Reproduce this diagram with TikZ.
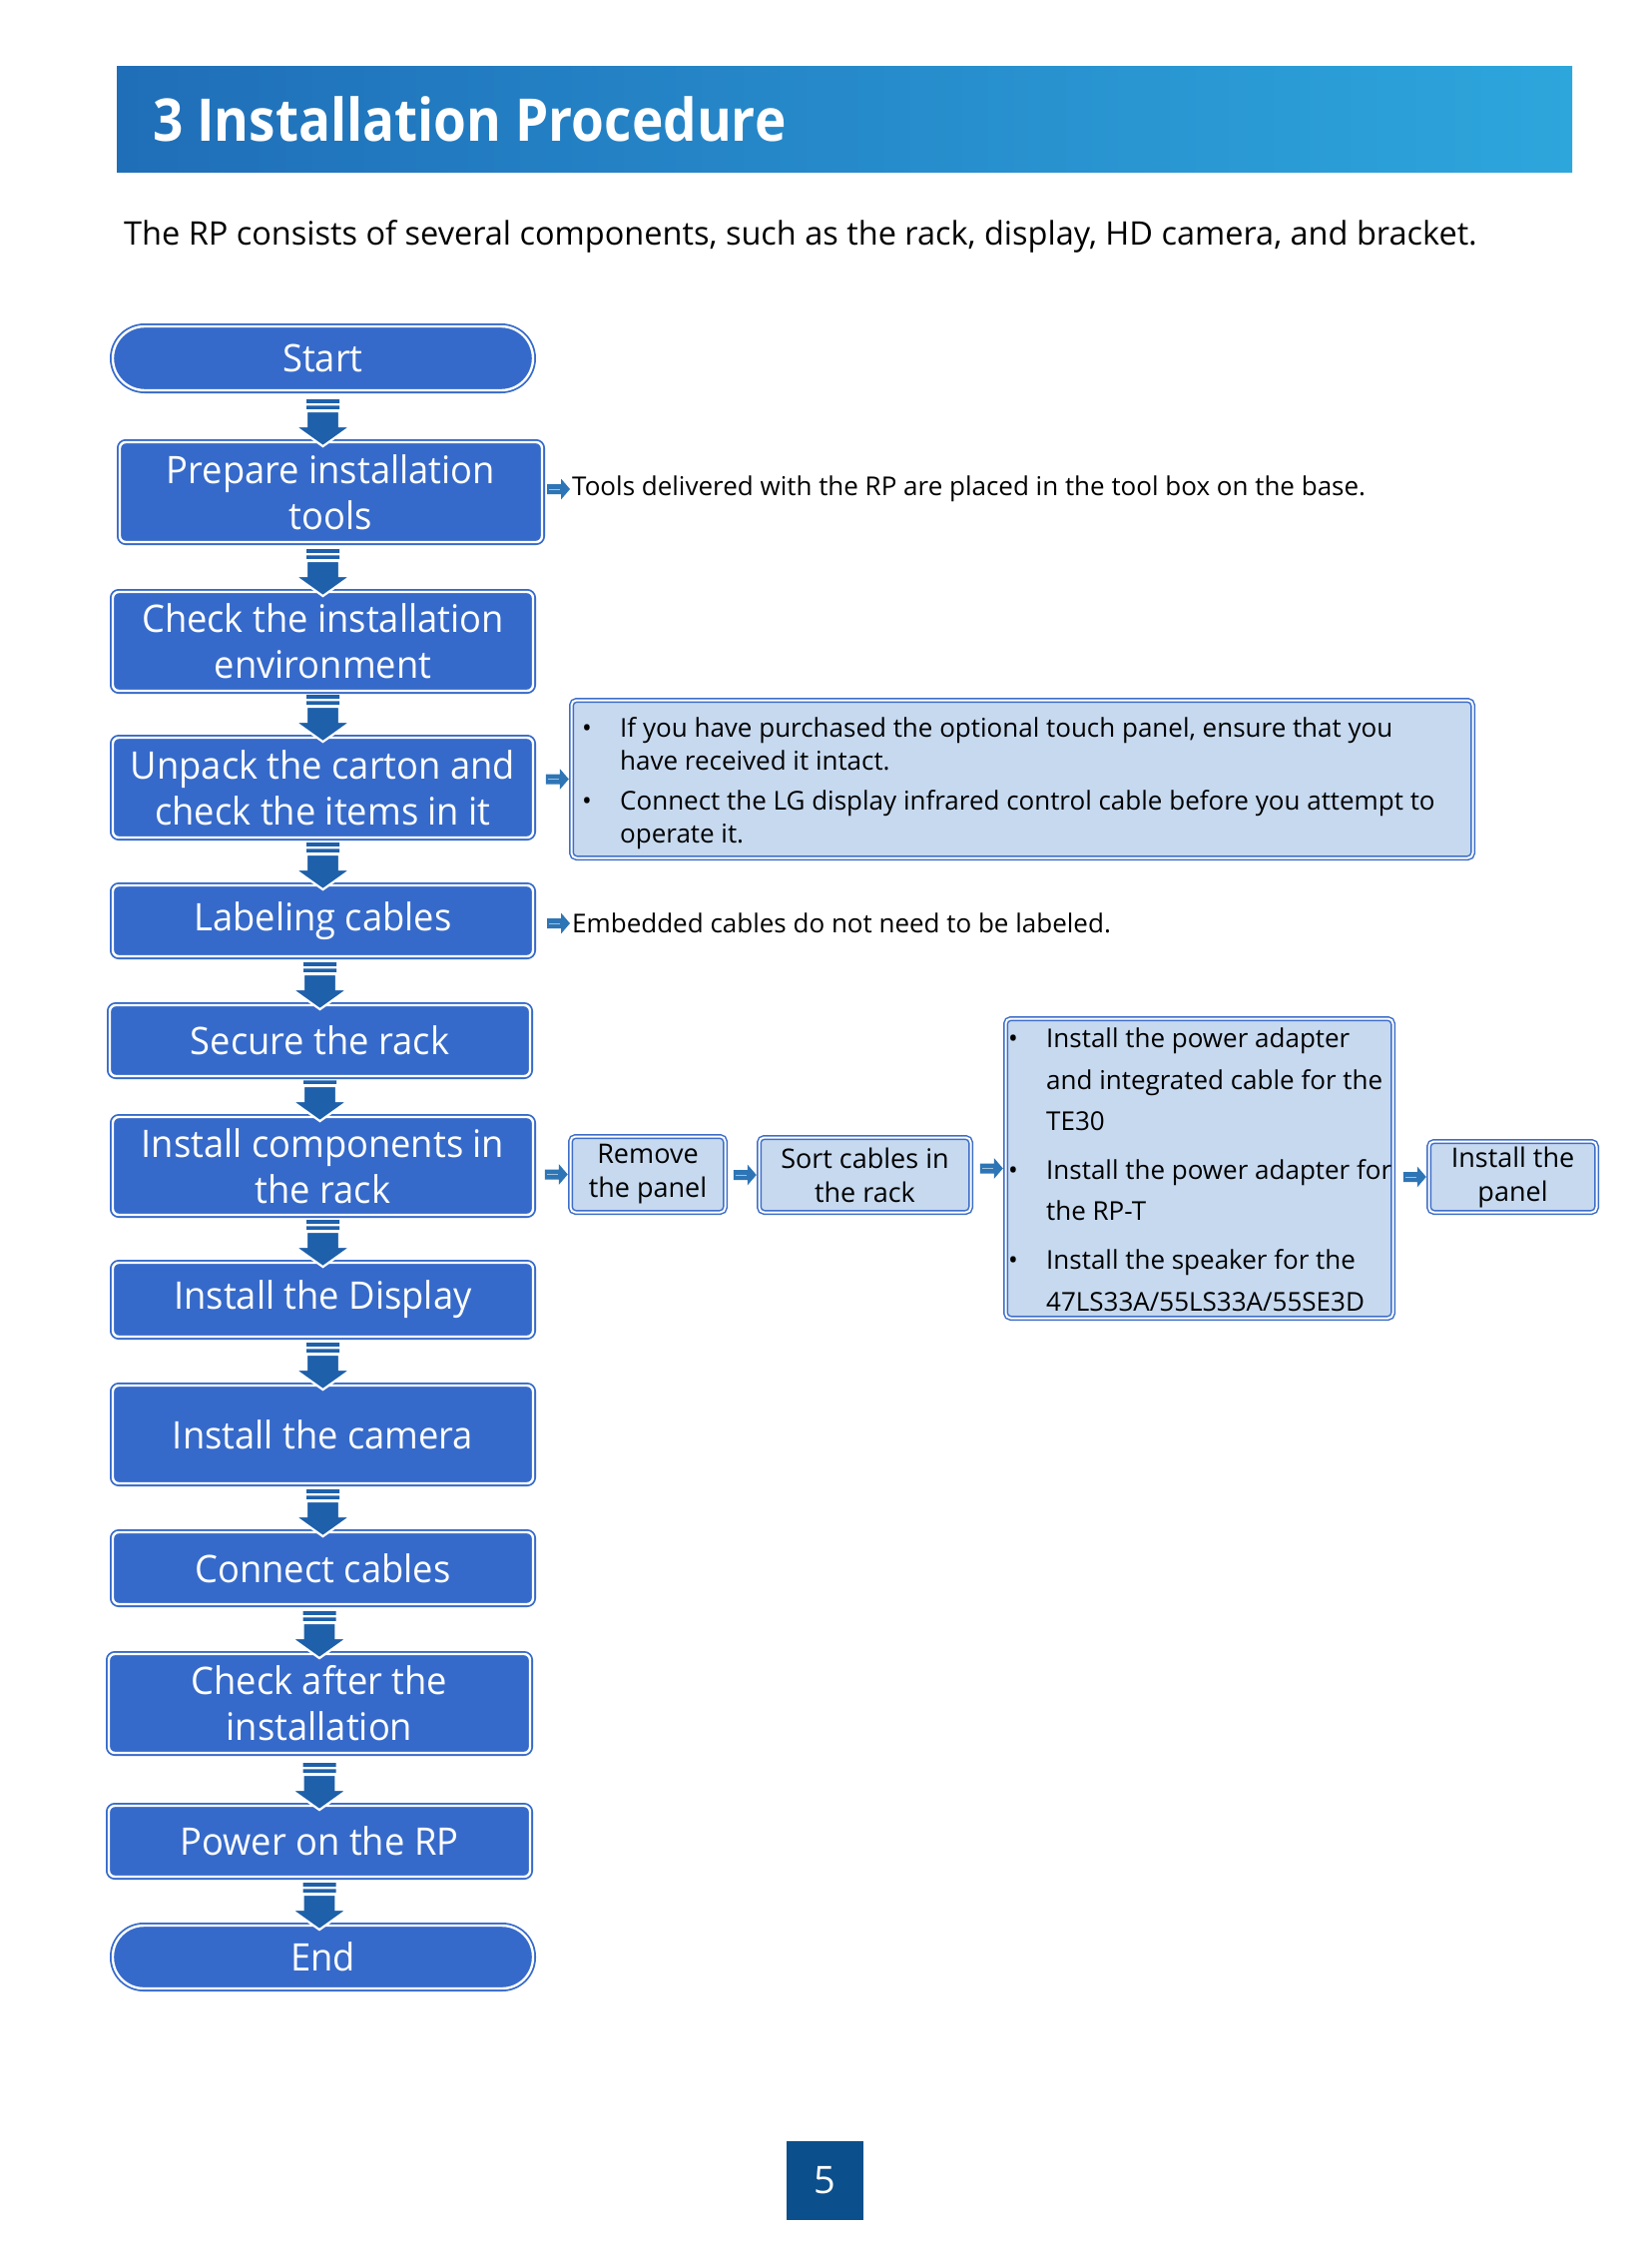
\documentclass[tikz,border=0pt]{standalone}
\usepackage{fontspec}
\setmainfont{Open Sans}
\newfontfamily\titlefont[FakeStretch=0.9]{Open Sans}
\newfontfamily\boxfont[FakeStretch=0.955]{Open Sans}
\newfontfamily\smallfont{Open Sans}
\usetikzlibrary{calc}
\definecolor{boxblue}{RGB}{54,106,202}
\definecolor{arrowblue}{RGB}{30,96,170}
\definecolor{sideblue}{RGB}{46,117,182}
\definecolor{lightfill}{RGB}{198,217,239}
\definecolor{lightedge}{RGB}{62,110,200}
\definecolor{headleft}{RGB}{31,110,184}
\definecolor{headright}{RGB}{45,166,220}
\definecolor{pagebox}{RGB}{11,79,140}
\tikzset{
  mainbox/.style={rectangle, rounded corners=6pt, fill=boxblue, draw=boxblue, double=white,
    double distance=2.4pt, line width=1.8pt, text=white, align=center, inner sep=0pt,
    font=\boxfont\fontsize{38}{46}\selectfont, minimum width=421pt},
  lightbox/.style={rectangle, rounded corners=5pt, fill=lightfill, draw=lightedge, double=white,
    double distance=2pt, line width=1.5pt, text=black, align=center, inner sep=0pt,
    font=\smallfont\fontsize{27}{34}\selectfont},
  sidetext/.style={inner sep=0pt, anchor=west, font=\smallfont\fontsize{26}{30}\selectfont},
  linetext/.style={inner sep=0pt, anchor=base west, font=\smallfont\fontsize{26}{30}\selectfont},
}
% block arrow from node #1 down to node #2 (tip reaches into #2, tail hidden above #1's bottom)
\newcommand\flowarrow[2]{%
  \begin{scope}
  \clip let \p1=(#1.south) in (\x1-60pt,\y1-1.5pt) rectangle (\x1+60pt,\y1-300pt);
  \fill[arrowblue] let \p1=(#1.south), \p2=(#2.north), \n1={min(\x1,\x2)}, \n2={\y2-5pt} in
    (\n1*1pt-16.5pt,\n2*1pt+43.3pt) rectangle (\n1*1pt+16.5pt,\n2*1pt+47pt)
    (\n1*1pt-16.5pt,\n2*1pt+37.3pt) rectangle (\n1*1pt+16.5pt,\n2*1pt+40.7pt);
  \path[fill=arrowblue, draw=white, line width=2.2pt] let \p1=(#1.south), \p2=(#2.north), \n1={min(\x1,\x2)}, \n2={\y2-5pt} in
    (\n1*1pt-16.5pt,\n2*1pt+35pt) -- (\n1*1pt+16.5pt,\n2*1pt+35pt) -- (\n1*1pt+16.5pt,\n2*1pt+20pt)
    -- (\n1*1pt+28pt,\n2*1pt+20pt) -- (\n1*1pt,\n2*1pt) -- (\n1*1pt-28pt,\n2*1pt+20pt)
    -- (\n1*1pt-16.5pt,\n2*1pt+20pt) -- cycle;
  \end{scope}
}
\newcommand\sidearrow[2]{%
  \fill[sideblue] let \p2=(#2.west) in
    (\x2-25pt,\y2+5pt) -- (\x2-11pt,\y2+5pt) -- (\x2-11pt,\y2+10.5pt) -- (\x2-2pt,\y2)
    -- (\x2-11pt,\y2-10.5pt) -- (\x2-11pt,\y2-5pt) -- (\x2-25pt,\y2-5pt) -- cycle;
  \draw[white!55!sideblue, line width=0.9pt] let \p2=(#2.west) in
    (\x2-23pt,\y2) -- (\x2-12pt,\y2);
}
\begin{document}
\begin{tikzpicture}[x=1pt,y=-1pt]
\useasboundingbox[fill=white] (0,0) rectangle (1654,2245);
% header
\shade[left color=headleft, right color=headright] (117,67) rectangle (1575,173);
\node[inner sep=0pt, anchor=west, text=white, font=\titlefont\bfseries\fontsize{59}{70}\selectfont] (title) at (153,119) {3 Installation Procedure};
\node[inner sep=0pt, anchor=west, font=\smallfont\fontsize{32.5}{40}\selectfont] (intro) at (124,237) {The RP consists of several components, such as the rack, display, HD camera, and bracket.};
% main flow
\node[mainbox, minimum height=64pt, rounded corners=32pt] (start) at (323.5,359) {Start};
\node[mainbox, minimum width=423pt, minimum height=100pt] (prep) at (331.5,493) {Prepare installation\\tools};
\node[mainbox, minimum height=99pt] (check) at (323.5,642.5) {Check the installation\\environment};
\node[mainbox, minimum height=100pt] (unpack) at (323.5,789) {Unpack the carton and\\check the items in it};
\node[mainbox, minimum height=71pt] (label) at (323.5,922.5) {Labeling cables};
\node[mainbox, minimum height=71pt] (secure) at (320.5,1042.5) {Secure the rack};
\node[mainbox, minimum height=98pt] (comps) at (323.5,1168) {Install components in\\the rack};
\node[mainbox, minimum height=74pt] (display) at (323.5,1302) {Install the Display};
\node[mainbox, minimum height=98pt] (camera) at (323.5,1437) {Install the camera};
\node[mainbox, minimum height=72pt] (connect) at (323.5,1571) {Connect cables};
\node[mainbox, minimum width=422pt, minimum height=99pt] (after) at (320,1706.5) {Check after the\\installation};
\node[mainbox, minimum width=422pt, minimum height=71pt] (power) at (320,1844.5) {Power on the RP};
\node[mainbox, minimum height=63pt, rounded corners=31pt] (end) at (323.5,1960.5) {End};
% side notes
\node[sidetext] (tools) at (573,490) {Tools delivered with the RP are placed in the tool box on the base.};
\node[sidetext] (embedded) at (573,925) {Embedded cables do not need to be labeled.};
\node[lightbox, minimum width=903pt, minimum height=158pt] (unpackinfo) at (1024,780.5) {};
\node[linetext] (u1b) at (583,738) {•};
\node[linetext] (u1a) at (621,738) {If you have purchased the optional touch panel, ensure that you};
\node[linetext] (u1c) at (621,771) {have received it intact.};
\node[linetext] (u2b) at (583,811) {•};
\node[linetext] (u2a) at (621,811) {Connect the LG display infrared control cable before you attempt to};
\node[linetext] (u2c) at (621,844) {operate it.};
% sub-flow of installing components
\node[lightbox, minimum width=155pt, minimum height=76pt] (remove) at (649,1176.5) {Remove\\the panel};
\node[lightbox, minimum width=212pt, minimum height=75pt] (sort) at (866.5,1177) {Sort cables in\\the rack};
\node[lightbox, minimum width=388pt, minimum height=300pt] (big) at (1201.5,1170.5) {};
\node[linetext] (b1b) at (1010,1049) {•};
\node[linetext] (b1a) at (1048,1049) {Install the power adapter};
\node[linetext] (b1c) at (1048,1091) {and integrated cable for the};
\node[linetext] (b1d) at (1048,1132) {TE30};
\node[linetext] (b2b) at (1010,1181) {•};
\node[linetext] (b2a) at (1048,1181) {Install the power adapter for};
\node[linetext] (b2c) at (1048,1222) {the RP-T};
\node[linetext] (b3b) at (1010,1271) {•};
\node[linetext] (b3a) at (1048,1271) {Install the speaker for the};
\node[linetext] (b3c) at (1048,1313) {47LS33A/55LS33A/55SE3D};
\node[lightbox, minimum width=168pt, minimum height=71pt] (installp) at (1515.5,1179) {Install the\\panel};
% page number
\fill[pagebox] (788,2145) rectangle (865,2224);
\node[text=white, font=\smallfont\fontsize{38}{44}\selectfont] (pnum) at (826.5,2184.5) {5};
% connectors
\flowarrow{start}{prep}
\flowarrow{prep}{check}
\flowarrow{check}{unpack}
\flowarrow{unpack}{label}
\flowarrow{label}{secure}
\flowarrow{secure}{comps}
\flowarrow{comps}{display}
\flowarrow{display}{camera}
\flowarrow{camera}{connect}
\flowarrow{connect}{after}
\flowarrow{after}{power}
\flowarrow{power}{end}
\sidearrow{prep}{tools}
\sidearrow{unpack}{unpackinfo}
\sidearrow{label}{embedded}
\sidearrow{comps}{remove}
\sidearrow{remove}{sort}
\sidearrow{sort}{big}
\sidearrow{big}{installp}
\end{tikzpicture}
\end{document}
